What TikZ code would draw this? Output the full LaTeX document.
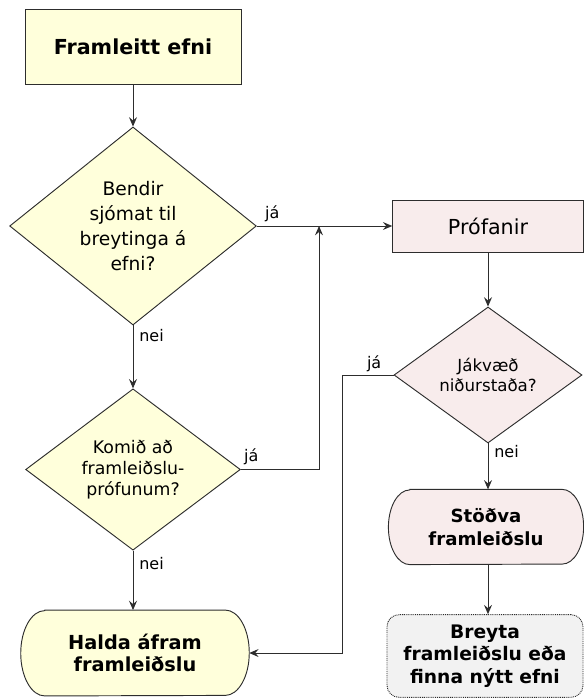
\documentclass[tikz,border=0pt]{standalone}
\usepackage{fontspec}
\setmainfont{DejaVu Sans}
\usetikzlibrary{arrows.meta,positioning,shapes.geometric,backgrounds}
\definecolor{ylwfill}{RGB}{255,255,219}
\definecolor{pnkfill}{RGB}{248,236,236}
\definecolor{gryfill}{RGB}{242,242,242}
\definecolor{edgegray}{RGB}{45,45,45}
\tikzset{
  blk/.style={draw=edgegray,rectangle,line width=0.7pt,align=center,inner sep=2pt},
  ylwblk/.style={blk,fill=ylwfill},
  pnkblk/.style={blk,fill=pnkfill},
  dec/.style={blk,diamond,inner sep=0pt},
  ylwdec/.style={dec,fill=ylwfill},
  pnkdec/.style={dec,fill=pnkfill},
  endblk/.style={rectangle,align=center,inner sep=2pt},
  capline/.style={draw=edgegray,line width=0.7pt},
  grayblk/.style={blk,fill=gryfill,rounded corners=9pt,dash pattern=on 0.7pt off 0.7pt,
    font=\bfseries\fontsize{14}{17}\selectfont},
  arr/.style={-{Stealth[length=7pt,width=6pt,inset=2.5pt]},line width=0.7pt,draw=edgegray},
  lbl/.style={font=\fontsize{12}{14}\selectfont,inner sep=1.5pt}
}
% capsule outline behind a node: name, fill, end depth, half height
\newcommand{\drawcap}[4]{%
  \begin{scope}[on background layer]
    \path[capline,fill=#2] ([xshift=#3]#1.north west) -- ([xshift=-#3]#1.north east)
      arc[start angle=90,end angle=-90,x radius=#3,y radius=#4]
      -- ([xshift=#3]#1.south west)
      arc[start angle=270,end angle=90,x radius=#3,y radius=#4] -- cycle;
  \end{scope}}
\begin{document}
\begin{tikzpicture}[x=0.75pt,y=-0.75pt]
  \useasboundingbox (0,0) rectangle (584,698);

  % left column
  \node[ylwblk, minimum width=162pt, minimum height=56pt,
    font=\bfseries\fontsize{15.5}{18}\selectfont] (efni) at (133,47) {Framleitt efni};
  \node[ylwdec, aspect=1.25, minimum width=185pt, minimum height=148.5pt,
    font=\fontsize{14}{18.75}\selectfont] (q1) at (133,226) {Bendir\\sjómat til\\breytinga á\\efni?};
  \node[ylwdec, aspect=1.33, minimum width=161pt, minimum height=121pt,
    font=\fontsize{13}{15.6}\selectfont] (q3) at (133,469.5) {Komið að\\framleiðslu-\\prófunum?};
  \node[endblk, minimum width=171pt, minimum height=64pt,
    font=\bfseries\fontsize{14.5}{16.5}\selectfont] (halda) at (135,653) {Halda áfram\\framleiðslu};
  \drawcap{halda}{ylwfill}{18pt}{32pt}

  % right column
  \node[pnkblk, minimum width=143pt, minimum height=39pt,
    font=\fontsize{15.5}{18}\selectfont] (prof) at (488,226) {Prófanir};
  \node[pnkdec, aspect=1.38, minimum width=141pt, minimum height=102pt,
    font=\fontsize{12.5}{15}\selectfont] (q2) at (488,375) {Jákvæð\\niðurstaða?};
  \node[endblk, minimum width=146pt, minimum height=56pt,
    font=\bfseries\fontsize{13.6}{17.5}\selectfont] (stodva) at (486,527) {Stöðva\\framleiðslu};
  \drawcap{stodva}{pnkfill}{16pt}{28pt}
  \node[grayblk, minimum width=147pt, minimum height=62pt] (breyta) at (485,656)
    {Breyta\\framleiðslu eða\\finna nýtt efni};

  \coordinate (join) at (319,226);

  % connectors
  \draw[arr] (efni) -- (q1);
  \draw[arr] (q1.east) -- (prof.west);
  \draw[arr] (q1) -- (q3);
  \draw[arr] (q3.east) -| (join);
  \draw[arr] (q3.south) -- (q3.south |- halda.north);
  \draw[arr] (prof.south -| q2.north) -- (q2);
  \draw[arr] (q2) -- (q2.south |- stodva.north);
  \draw[arr] (q2.west) -- ++(-51,0) |- (halda.east);
  \draw[arr] (stodva.south -| q2.south) -- (q2.south |- breyta.north);

  % labels
  \node[lbl, anchor=south west] (ja1) at ([shift={(6,-2)}]q1.east) {já};
  \node[lbl, anchor=north west] (nei1) at ([shift={(4,2)}]q1.south) {nei};
  \node[lbl, anchor=south west] (ja3) at ([shift={(1,-2)}]q3.east) {já};
  \node[lbl, anchor=north west] (nei3) at ([shift={(4,4)}]q3.south) {nei};
  \node[lbl, anchor=south east] (ja2) at ([shift={(-10,-1)}]q2.west) {já};
  \node[lbl, anchor=north west] (nei2) at ([shift={(4,0)}]q2.south) {nei};
\end{tikzpicture}
\end{document}
